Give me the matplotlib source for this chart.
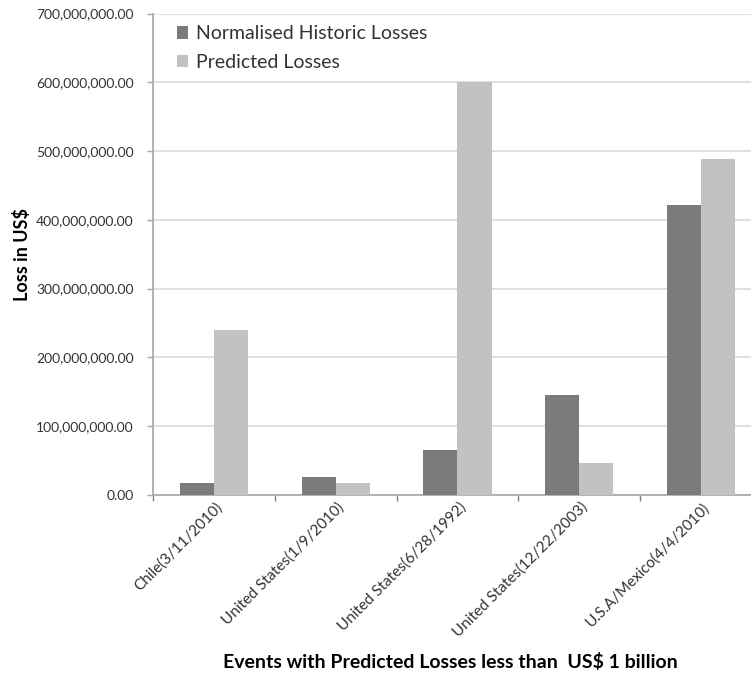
import matplotlib
matplotlib.use("Agg")
import matplotlib.pyplot as plt
import matplotlib.transforms as mtransforms
from matplotlib.ticker import FuncFormatter, MultipleLocator, FixedLocator
import numpy as np

events = ["Chile(3/11/2010)", "United States(1/9/2010)", "United States(6/28/1992)",
          "United States(12/22/2003)", "U.S.A/Mexico(4/4/2010)"]
historic = [17e6, 26e6, 65e6, 145e6, 421e6]
predicted = [240e6, 17e6, 600e6, 46e6, 488e6]

plt.rcParams['font.family'] = ['Lato', 'DejaVu Sans']

fig = plt.figure(figsize=(7.51, 6.73), dpi=100)
ax = fig.add_axes([153 / 751, 178 / 673, 609 / 751, 481.5 / 673])

x = np.arange(len(events))
w = 0.28
ax.bar(x - w / 2, historic, width=w, color="#7b7b7b", label="Normalised Historic Losses", zorder=3)
ax.bar(x + w / 2, predicted, width=w, color="#c2c2c2", label="Predicted Losses", zorder=3)

ax.set_xlim(-0.5, len(events) - 0.5)
ax.set_ylim(0, 700e6)
ax.yaxis.set_major_locator(MultipleLocator(100e6))
ax.yaxis.set_major_formatter(FuncFormatter(lambda v, p: f"{v:,.2f}"))
ax.grid(axis="y", color="#d9d9d9", linewidth=1.2, zorder=0)
ax.set_axisbelow(True)

for s in ["top", "right"]:
    ax.spines[s].set_visible(False)
for s in ["left", "bottom"]:
    ax.spines[s].set_color("#a6a6a6")
    ax.spines[s].set_linewidth(1.2)

# category boundary ticks on the x axis, labels at category centres
ax.xaxis.set_major_locator(FixedLocator(np.arange(len(events) + 1) - 0.5))
ax.xaxis.set_major_formatter(FuncFormatter(lambda v, p: ""))
ax.tick_params(axis="x", which="major", length=4, color="#808080", width=1)
ax.tick_params(axis="y", length=4, color="#a6a6a6", width=1, labelsize=10, pad=10, labelcolor="#333333")

offset = mtransforms.ScaledTranslation(1 / 100, -5 / 100, fig.dpi_scale_trans)
for i, name in enumerate(events):
    ax.text(i, 0, name, rotation=45, ha="right", va="top", rotation_mode="anchor",
            fontsize=11, color="#333333",
            transform=ax.get_xaxis_transform() + offset)

ax.set_ylabel("Loss in US$", fontsize=13, fontweight="bold")
ax.yaxis.set_label_coords(-0.2, 0.5)
fig.text(450 / 751, 1 - 662 / 673, "Events with Predicted Losses less than  US$ 1 billion",
         ha="center", va="center", fontsize=14, fontweight="bold")

leg = ax.legend(loc="upper left", bbox_to_anchor=(0.01, 1.012), frameon=False, fontsize=14,
                handlelength=0.6, handleheight=0.6, handletextpad=0.4, labelspacing=0.6)
for t in leg.get_texts():
    t.set_color("#333333")

fig.savefig("out.png", dpi=100)
